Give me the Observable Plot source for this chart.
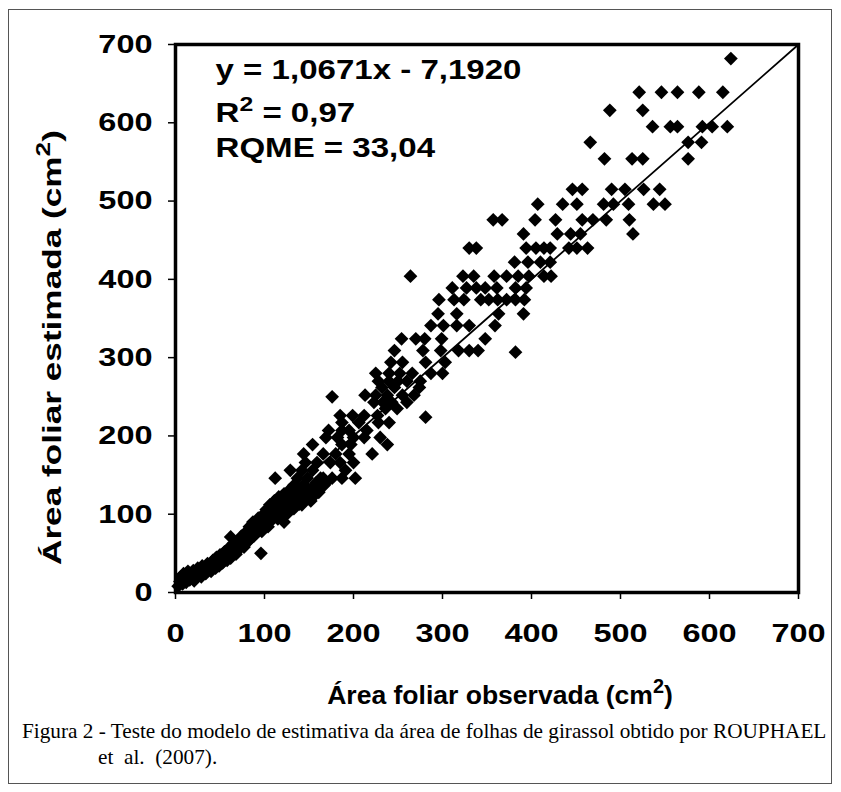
<!DOCTYPE html>
<html>
<head>
<meta charset="utf-8">
<script src="https://cdn.jsdelivr.net/npm/d3@7"></script>
<script src="https://cdn.jsdelivr.net/npm/@observablehq/plot@0.6"></script>
<style>
  html, body { margin: 0; padding: 0; background: #fff; }
  #wrap { position: relative; width: 841px; height: 792px; overflow: hidden; }
  #chart { position: absolute; left: 0; top: 0; }
  #borda { position: absolute; left: 8px; top: 9px; width: 824px; height: 775px; border: 1.5px solid #555; box-sizing: border-box; pointer-events: none; }
  .legenda { position: absolute; font-family: "Liberation Serif", "Times New Roman", serif; font-size: 21px; line-height: 24px; color: #000; white-space: pre; }
</style>
</head>
<body>
<div id="wrap">
  <div id="chart"></div>
  <div id="borda"></div>
  <div class="legenda" id="leg1" style="left:22px; top:719px;">Figura 2 - Teste do modelo de estimativa da área de folhas de girassol obtido por ROUPHAEL</div>
  <div class="legenda" id="leg2" style="left:98px; top:745px;">et  al.  (2007).</div>
</div>
<script>
// ---- data ----
const xTicks = [0, 100, 200, 300, 400, 500, 600, 700];
const yTicks = [0, 100, 200, 300, 400, 500, 600, 700];
const identidade = [0, 700];
const tituloX = "Área foliar observada (cm^2)";
const tituloY = "Área foliar estimada (cm^2)";
const anotacoes = ["y = 1,0671x - 7,1920", "R^2 = 0,97", "RQME = 33,04"];

// [observada, estimada]
const pontosAltos = [
  [624,682],
  [521,639],[546,639],[564,639],[588,639],[615,639],
  [488,616],[525,616],
  [536,595],[556,595],[564,595],[592,595],[603,595],[620,595],
  [466,575],[576,575],[591,575],
  [482,554],[513,554],[525,554],[576,554],
  [446,515],[457,515],[490,515],[505,515],[526,515],[544,515],
  [407,496],[435,496],[451,496],[481,496],[492,496],[509,496],[537,496],[550,496],
  [357,476],[367,476],[404,476],[427,476],[457,476],[469,476],[484,476],[510,476],
  [391,458],[429,458],[444,458],[455,458],[514,458],
  [330,440],[338,440],[394,440],[405,440],[414,440],[421,440],[442,440],[451,440],[463,440]
];
const pontosMedios = [
  [381,422],[396,422],[410,422],[421,422],
  [264,404],[323,404],[335,404],[358,404],[372,404],[385,404],[397,404],[414,404],[422,404],
  [311,389],[327,389],[338,389],[348,389],[361,389],[382,389],[394,389],
  [296,374],[313,374],[324,374],[343,374],[352,374],[362,374],[372,374],[382,374],[392,374],
  [295,356],[316,356],[363,356],[391,356],
  [287,341],[301,341],[316,341],[330,341],[359,341],
  [254,324],[270,324],[280,324],[299,324],[348,324],
  [246,309],[278,309],[298,309],[318,309],[330,309],[340,309],[382,307],
  [242,294],[255,294],[281,294],[303,294],
  [225,280],[240,280],[252,280],[266,280],[287,280],[300,280],
  [228,270],[240,270],[250,270],[260,270],[275,270],
  [232,262],[246,262],[274,262],
  [176,250],[213,252],[225,252],[238,252],[255,252],[268,252]
];
const pontosBaixos = [
  [223,243],[233,243],[243,243],[260,243],
  [236,235],[249,235],
  [185,226],[199,226],[212,226],[227,226],[281,224],
  [187,217],[206,217],[228,217],[240,217],
  [172,207],[187,207],[195,207],[215,207],
  [169,198],[182,198],[200,198],[212,198],[230,198],
  [154,189],[187,189],[197,189],[238,189],
  [144,177],[166,177],[180,177],[195,177],[221,177],
  [146,166],[159,166],[174,166],[185,166],[200,166],
  [129,156],[142,156],[154,156],[191,156],
  [112,146],[137,146],[148,146],[163,146],[176,146],[187,146],[202,146],
  [133,137],[144,137],[157,137],[167,137],
  [159,132],[139,113],[122,90],[96,50],[62,71]
];
const pontosFaixa = [
  [3,8],[5,14],[6,20],[8,11],[9,24],[10,17],[12,13],[13,21],[14,27],[16,16],[17,23],[18,19],[20,28],[21,15],
  [22,24],[23,19],[25,31],[26,22],[27,27],[29,20],[30,34],[31,26],[33,30],[34,24],[36,37],[37,29],[39,33],[40,27],
  [42,41],[43,35],[45,31],[46,45],[47,38],[49,34],[50,48],[52,43],[53,38],[55,52],[56,46],[58,41],[59,56],[60,50],
  [62,44],[63,59],[65,54],[66,64],[68,49],[69,60],[71,67],[72,56],[74,72],[75,62],[77,58],[78,69],[79,77],[80,64],
  [82,74],[83,84],[84,68],[86,79],[87,90],[88,72],[90,84],[91,76],[93,95],[94,81],[95,88],[97,78],[98,99],[99,86],
  [101,94],[102,106],[104,84],[105,99],[106,112],[108,92],[109,104],[111,117],[112,98],[113,108],[115,94],[116,122],[117,103],[119,112],[120,98],
  [122,126],[123,106],[125,116],[126,101],[128,131],[129,111],[131,120],[133,107],[135,127],[136,116],[138,133],[140,121],[142,112],[144,128],
  [146,120],[148,134],[150,125],[152,117],[154,130],[156,124],[158,140],[161,128],[164,135],[166,146],[168,139]
];

const pontos = [...pontosFaixa, ...pontosBaixos, ...pontosMedios, ...pontosAltos]
  .map(([obs, est]) => ({obs, est}));

const FONT = "'Liberation Sans', Arial, sans-serif";

const plot = Plot.plot({
  width: 841,
  height: 712,
  marginLeft: 175,
  marginRight: 43,
  marginTop: 44,
  marginBottom: 120,
  style: {fontFamily: FONT, fontWeight: "bold", fontSize: "26px", color: "#000", background: "transparent"},
  x: {domain: [0, 700], ticks: xTicks},
  y: {domain: [0, 700], ticks: yTicks},
  marks: [
    Plot.line(identidade, {x: d => d, y: d => d, stroke: "#000", strokeWidth: 1.8}),
    Plot.dot(pontos, {x: "obs", y: "est", symbol: "diamond2", r: 6.2, fill: "#000", stroke: "none"}),
    Plot.frame({stroke: "#000", strokeWidth: 3.5}),
    Plot.axisX({ticks: xTicks, tickSize: 7, tickPadding: 24, strokeWidth: 1.5, label: null, tickFormat: d => String(d), fontSize: 26}),
    Plot.axisY({ticks: yTicks, tickSize: 7, tickPadding: 16, strokeWidth: 1.5, label: null, tickFormat: d => String(d), fontSize: 26}),
    Plot.text(anotacoes, {
      x: () => 45,
      y: (d, i) => [667, 612, 568][i],
      text: d => d, textAnchor: "start", lineAnchor: "middle", fontSize: 28, fontWeight: "bold", fill: "#000"
    }),
    Plot.text([tituloX], {frameAnchor: "bottom", dx: 13, dy: 103, text: d => d, textAnchor: "middle", lineAnchor: "middle", fontSize: 26, fontWeight: "bold", fill: "#000"}),
    Plot.text([tituloY], {frameAnchor: "left", dx: -123, dy: 29, rotate: -90, text: d => d, textAnchor: "middle", lineAnchor: "middle", fontSize: 26, fontWeight: "bold", fill: "#000"})
  ]
});

document.getElementById("chart").appendChild(plot);

const NS = "http://www.w3.org/2000/svg";
// superscripts marked with ^
plot.querySelectorAll("text").forEach(t => {
  const s = t.textContent;
  if (!s.includes("^")) return;
  const i = s.indexOf("^");
  const fs = parseFloat(getComputedStyle(t).fontSize) || 26;
  const a = s.slice(0, i), sup = s[i + 1], b = s.slice(i + 2);
  t.textContent = "";
  const t1 = document.createElementNS(NS, "tspan"); t1.textContent = a;
  const t2 = document.createElementNS(NS, "tspan"); t2.textContent = sup;
  t2.setAttribute("font-size", (fs * 0.75).toFixed(1));
  t2.setAttribute("dy", (-fs * 0.4).toFixed(1));
  const t3 = document.createElementNS(NS, "tspan"); t3.textContent = b;
  t3.setAttribute("dy", (fs * 0.4).toFixed(1));
  t.append(t1, t2, t3);
});

// horizontal widening of the bold sans text, as in the reference
function alargar(t, f, alvo) {
  const L = t.getComputedTextLength();
  if (L > 0) {
    t.setAttribute("textLength", (alvo || L * f).toFixed(1));
    t.setAttribute("lengthAdjust", "spacingAndGlyphs");
  }
}
plot.querySelectorAll("g[aria-label='x-axis tick label'] text, g[aria-label='y-axis tick label'] text").forEach(t => alargar(t, 1.25));
plot.querySelectorAll("g[aria-label='text'] text").forEach(t => {
  const s = t.textContent;
  if (s.startsWith("Área foliar observada")) alargar(t, 1.02);
  else if (s.startsWith("Área foliar estimada")) alargar(t, 1, 435);
  else alargar(t, 1.18);
});

// caption: condensed serif fitted to the reference line width
const leg1 = document.getElementById("leg1");
const w1 = leg1.getBoundingClientRect().width;
const fator = 804 / w1;
leg1.style.transformOrigin = "0 0";
leg1.style.transform = `scaleX(${fator.toFixed(3)})`;
const leg2 = document.getElementById("leg2");
leg2.style.transformOrigin = "0 0";
leg2.style.transform = `scaleX(${fator.toFixed(3)})`;
</script>
</body>
</html>
